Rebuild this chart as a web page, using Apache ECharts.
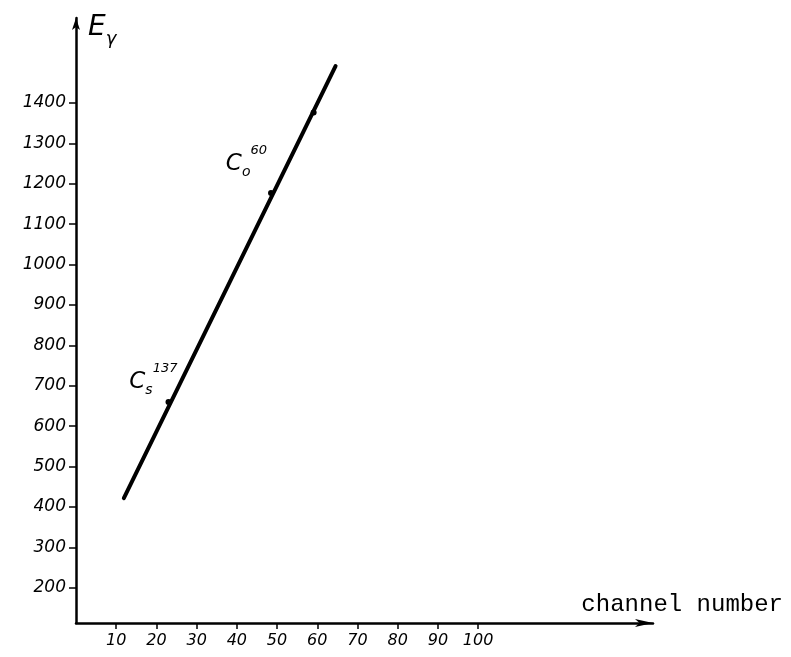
<!DOCTYPE html>
<html>
<head>
<meta charset="utf-8">
<script src="https://cdn.jsdelivr.net/npm/echarts@6/dist/echarts.min.js"></script>
<style>html,body{margin:0;padding:0;background:#fff}#c{width:791px;height:657px}</style>
</head>
<body>
<div id="c"></div>
<script>
// Calibration line (channel number vs gamma energy, keV)
const lineChannels = [11.9, 64.55];
const lineEnergies = [422, 1491];
// Measured calibration points
const pointNames = ['Cs137', 'Co60a', 'Co60b'];
const pointChannels = [23.0, 48.5, 59.1];
const pointEnergies = [660, 1177, 1376];
// Axis tick values
const xTicks = [10, 20, 30, 40, 50, 60, 70, 80, 90, 100];
const yTicks = [200, 300, 400, 500, 600, 700, 800, 900, 1000, 1100, 1200, 1300, 1400];

const FONT = 'DejaVu Sans';
const INK = '#000';
const chart = echarts.init(document.getElementById('c'), null, {renderer: 'canvas'});

const labelRich = {
  c: {fontFamily: FONT, fontStyle: 'italic', fontSize: 23, color: INK, opacity: 1},
  sub: {fontFamily: FONT, fontStyle: 'italic', fontSize: 14, color: INK, verticalAlign: 'bottom', padding: [0, 0, -4, 0]},
  sup: {fontFamily: FONT, fontStyle: 'italic', fontSize: 13, color: INK, verticalAlign: 'top', padding: [-8, 0, 0, 0]}
};

const pointData = pointChannels.map((x, i) => {
  const d = {value: [x, pointEnergies[i]], name: pointNames[i]};
  if (i === 0) {
    d.label = {show: true, position: 'left', distance: 0, offset: [12, -20], color: INK,
      textBorderWidth: 0, formatter: '{c|C}{sub|s}{sup|137}', rich: labelRich};
  } else if (i === 1) {
    d.label = {show: true, position: 'left', distance: 0, offset: [-1, -29], color: INK,
      textBorderWidth: 0, formatter: '{c|C}{sub|o}{sup|60}', rich: labelRich};
  }
  return d;
});

const option = {
  backgroundColor: '#ffffff',
  animation: false,
  grid: {left: 76, right: 138, top: 18, bottom: 34, outerBoundsMode: 'none'},
  xAxis: {
    type: 'value', min: 0, max: 143.5,
    name: 'channel number',
    nameLocation: 'end', nameGap: 130,
    nameTextStyle: {fontFamily: 'Liberation Mono', fontSize: 24, color: INK,
      align: 'right', verticalAlign: 'bottom', lineHeight: 24, padding: [0, 0, 6, 0]},
    splitLine: {show: false},
    axisLine: {show: true, onZero: false, symbol: ['none', 'arrow'], symbolSize: [6, 18],
      lineStyle: {color: INK, width: 2.5}},
    axisTick: {show: true, length: 6, customValues: xTicks, lineStyle: {color: INK, width: 1.5}},
    axisLabel: {customValues: xTicks, margin: 10, fontFamily: FONT, fontStyle: 'italic',
      fontSize: 16, color: INK, formatter: v => String(v)}
  },
  yAxis: {
    type: 'value', min: 113, max: 1610,
    name: '{e|E}{g|γ}',
    nameLocation: 'end', nameGap: -2,
    nameTextStyle: {align: 'left', verticalAlign: 'top', padding: [-6, 0, 0, 12],
      rich: {
        e: {fontFamily: FONT, fontStyle: 'italic', fontSize: 28, color: INK},
        g: {fontFamily: FONT, fontStyle: 'italic', fontSize: 18, color: INK, verticalAlign: 'bottom', padding: [0, 0, -6, 0]}
      }},
    splitLine: {show: false},
    axisLine: {show: true, onZero: false, symbol: ['none', 'arrow'], symbolSize: [6, 12],
      lineStyle: {color: INK, width: 2.5}},
    axisTick: {show: true, length: 7, customValues: yTicks, lineStyle: {color: INK, width: 1.5}},
    axisLabel: {customValues: yTicks, margin: 10, fontFamily: FONT, fontStyle: 'italic',
      fontSize: 17, color: INK, formatter: v => String(v)}
  },
  series: [
    {
      type: 'line',
      data: lineChannels.map((x, i) => [x, lineEnergies[i]]),
      symbol: 'none',
      lineStyle: {color: INK, width: 4, cap: 'round'},
      z: 2
    },
    {
      type: 'scatter',
      data: pointData,
      symbol: 'circle',
      symbolSize: 6,
      itemStyle: {color: INK, opacity: 1},
      z: 3
    }
  ]
};
chart.setOption(option);
</script>
</body>
</html>
